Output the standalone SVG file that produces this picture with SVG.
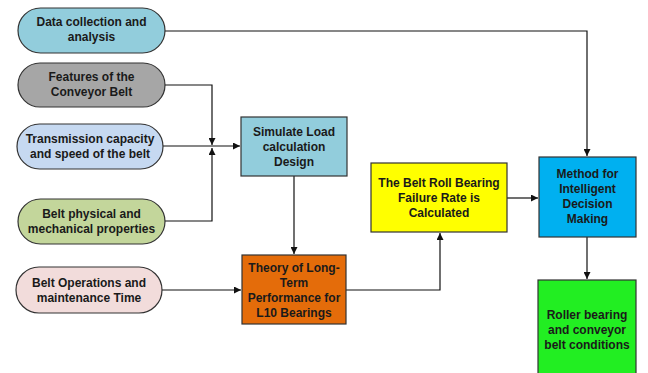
<svg xmlns="http://www.w3.org/2000/svg" width="648" height="373" viewBox="0 0 648 373">
<style>
.t{font-family:"Liberation Sans",Arial,sans-serif;font-weight:bold;font-size:12px;fill:#1a1a1a;text-anchor:middle}
.s{stroke:#333;stroke-width:1.2}
.c{fill:none;stroke:#111;stroke-width:1.2}
</style>
<defs>
<marker id="a" viewBox="0 0 10 10" refX="10" refY="5" markerWidth="7" markerHeight="7" markerUnits="userSpaceOnUse" orient="auto"><path d="M0,0L10,5L0,10z" fill="#111"/></marker>
</defs>
<rect width="648" height="373" fill="#fff"/>
<g id="connectors">
<path class="c" d="M165,31H587V156" marker-end="url(#a)"/>
<path class="c" d="M165,85H212V145" marker-end="url(#a)"/>
<path class="c" d="M163,146H240" marker-end="url(#a)"/>
<path class="c" d="M165,221H212V148" marker-end="url(#a)"/>
<path class="c" d="M162,290H241" marker-end="url(#a)"/>
<path class="c" d="M294,176V254" marker-end="url(#a)"/>
<path class="c" d="M346,290H440V233" marker-end="url(#a)"/>
<path class="c" d="M507,198H538" marker-end="url(#a)"/>
<path class="c" d="M587,237V279" marker-end="url(#a)"/>
</g>
<g id="n1"><rect class="s" x="18" y="8" width="147" height="45" rx="22.5" fill="#92CDDC"/><text class="t" x="91.5" y="26">Data collection and</text><text class="t" x="91.5" y="41">analysis</text></g>
<g id="n2"><rect class="s" x="18" y="63" width="147" height="44" rx="22" fill="#A6A6A6"/><text class="t" x="91.5" y="81">Features of the</text><text class="t" x="91.5" y="96">Conveyor Belt</text></g>
<g id="n3"><rect class="s" x="17" y="124" width="146" height="45" rx="22.5" fill="#C6D9F1"/><text class="t" x="90" y="143">Transmission capacity</text><text class="t" x="90" y="158">and speed of the belt</text></g>
<g id="n4"><rect class="s" x="18" y="199" width="147" height="45" rx="22.5" fill="#C3D69B"/><text class="t" x="91.5" y="218">Belt physical and</text><text class="t" x="91.5" y="233">mechanical properties</text></g>
<g id="n5"><rect class="s" x="16" y="267" width="146" height="46" rx="23" fill="#F2DCDB"/><text class="t" x="89" y="287">Belt Operations and</text><text class="t" x="89" y="302">maintenance Time</text></g>
<g id="n6"><rect class="s" x="241" y="117" width="106" height="59" fill="#92CDDC"/><text class="t" x="294" y="136">Simulate Load</text><text class="t" x="294" y="151">calculation</text><text class="t" x="294" y="166">Design</text></g>
<g id="n7"><rect class="s" x="242" y="255" width="104" height="69" fill="#E46C0A"/><text class="t" x="294" y="272">Theory of Long-</text><text class="t" x="294" y="287">Term</text><text class="t" x="294" y="302">Performance for</text><text class="t" x="294" y="317">L10 Bearings</text></g>
<g id="n8"><rect class="s" x="371" y="163" width="136" height="69" fill="#FFFF00"/><text class="t" x="439" y="187">The Belt Roll Bearing</text><text class="t" x="439" y="202">Failure Rate is</text><text class="t" x="439" y="217">Calculated</text></g>
<g id="n9"><rect class="s" x="539" y="157" width="97" height="80" fill="#00B0F0"/><text class="t" x="587.5" y="178">Method for</text><text class="t" x="587.5" y="193">Intelligent</text><text class="t" x="587.5" y="208">Decision</text><text class="t" x="587.5" y="223">Making</text></g>
<g id="n10"><rect class="s" x="538" y="280" width="98" height="100" fill="#22EE22"/><text class="t" x="587" y="319">Roller bearing</text><text class="t" x="587" y="334">and conveyor</text><text class="t" x="587" y="349">belt conditions</text></g>
</svg>
